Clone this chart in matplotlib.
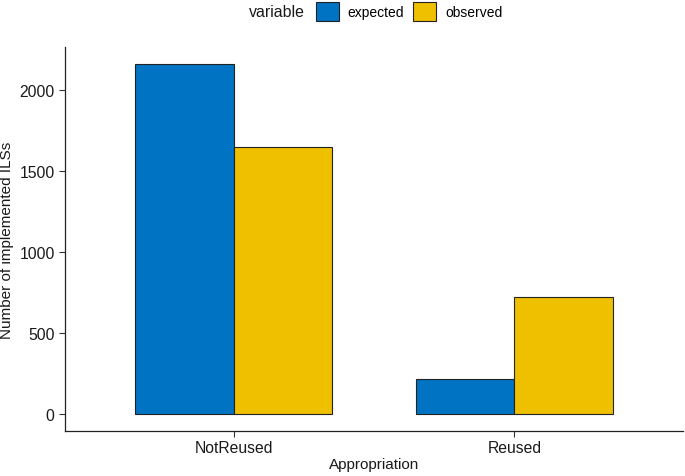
import numpy as np
import matplotlib.pyplot as plt
from matplotlib.patches import Patch

plt.rcParams['font.family'] = ['Liberation Sans', 'DejaVu Sans']

categories = ["NotReused", "Reused"]
series = ["expected", "observed"]
expected = [2162, 213]
observed = [1651, 723]
colors = ["#0073C2", "#EFC000"]

fig = plt.figure(figsize=(6.85, 4.77), dpi=100)
ax = fig.add_axes([0.095, 0.094, 0.902, 0.806])

x = np.arange(1, len(categories) + 1)
w = 0.35
for i, (vals, col) in enumerate(zip([expected, observed], colors)):
    ax.bar(x + (i - 0.5) * w, vals, width=w, color=col,
           edgecolor="#222222", linewidth=0.8)

ax.set_xlim(0.4, 2.6)
ax.set_ylim(-108, 2270)
ax.set_xticks(x)
ax.set_xticklabels(categories)
ax.set_yticks([0, 500, 1000, 1500, 2000])
ax.set_xlabel("Appropriation", fontsize=11, color="#1a1a1a", labelpad=1)
ax.set_ylabel("Number of implemented ILSs", fontsize=11, color="#1a1a1a", labelpad=4)
ax.tick_params(labelsize=11.3, labelcolor="#1a1a1a", length=4, width=0.8,
               color="#333333", direction="out")
ax.tick_params(axis="x", pad=2.5)
for s in ["top", "right"]:
    ax.spines[s].set_visible(False)
for s in ["left", "bottom"]:
    ax.spines[s].set_linewidth(0.9)
    ax.spines[s].set_color("#222222")

# legend on top, title placed to the left of the keys
handles = [Patch(facecolor=c, edgecolor="#222222", linewidth=0.8) for c in colors]
fig.text(0.364, 0.973, "variable", fontsize=11.4, ha="left", va="center", color="#1a1a1a")
fig.legend(handles, series, loc="center left", bbox_to_anchor=(0.461, 0.974),
           ncol=2, frameon=False, fontsize=10, handlelength=1.65, handleheight=1.65,
           handletextpad=0.65, columnspacing=0.65, borderaxespad=0, borderpad=0)

fig.savefig("out.png", dpi=100)
